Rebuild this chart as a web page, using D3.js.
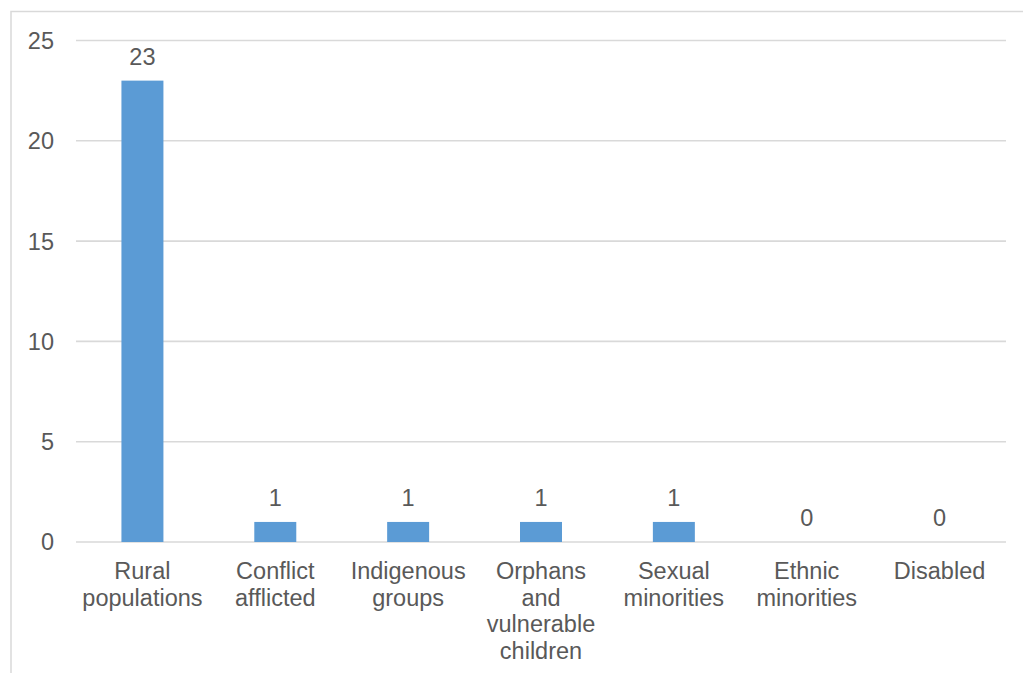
<!DOCTYPE html>
<html>
<head>
<meta charset="utf-8">
<script src="https://cdn.jsdelivr.net/npm/d3@7"></script>
<style>
  html, body { margin: 0; padding: 0; background: #fff; }
  svg { display: block; }
  text { font-family: "Liberation Sans", Arial, sans-serif; fill: #595959; }
</style>
</head>
<body>
<div id="chart"></div>
<script>
// Groups reached and their counts
const categories = [
  ["Rural", "populations"],
  ["Conflict", "afflicted"],
  ["Indigenous", "groups"],
  ["Orphans", "and", "vulnerable", "children"],
  ["Sexual", "minorities"],
  ["Ethnic", "minorities"],
  ["Disabled"]
];
const values = [23, 1, 1, 1, 1, 0, 0];
const yTicks = [0, 5, 10, 15, 20, 25];

const W = 1023, H = 673;
const margin = { left: 76, right: 17, top: 40.5, bottom: 131 };

const svg = d3.select("#chart").append("svg")
  .attr("width", W).attr("height", H);

// Chart frame (extends past the right and bottom edges)
svg.append("rect")
  .attr("x", 11).attr("y", 11.5)
  .attr("width", W + 20).attr("height", H + 20)
  .attr("fill", "none").attr("stroke", "#d9d9d9").attr("stroke-width", 1.5);

const keys = categories.map(c => c.join(" "));
const x = d3.scaleBand()
  .domain(keys)
  .range([margin.left, W - margin.right])
  .paddingInner(0.684).paddingOuter(0.342);

const y = d3.scaleLinear()
  .domain([0, 25])
  .range([H - margin.bottom, margin.top]);

// Horizontal gridlines
svg.append("g")
  .selectAll("line")
  .data(yTicks)
  .join("line")
  .attr("x1", margin.left).attr("x2", W - margin.right)
  .attr("y1", d => y(d)).attr("y2", d => y(d))
  .attr("stroke", "#d9d9d9").attr("stroke-width", 1.6);

// Y axis labels
svg.append("g")
  .selectAll("text")
  .data(yTicks)
  .join("text")
  .attr("x", 54).attr("y", d => y(d))
  .attr("dy", "0.36em")
  .attr("text-anchor", "end")
  .attr("font-size", "23.5px")
  .text(d => d);

// Bars
svg.append("g")
  .selectAll("rect")
  .data(values)
  .join("rect")
  .attr("x", (d, i) => x(keys[i]))
  .attr("width", x.bandwidth())
  .attr("y", d => y(d))
  .attr("height", d => y(0) - y(d))
  .attr("fill", "#5b9bd5");

// Value labels
svg.append("g")
  .selectAll("text")
  .data(values)
  .join("text")
  .attr("x", (d, i) => x(keys[i]) + x.bandwidth() / 2)
  .attr("y", d => y(d) - 16)
  .attr("text-anchor", "middle")
  .attr("font-size", "23.5px")
  .text(d => d);

// Category labels, one tspan per line
const cat = svg.append("g")
  .selectAll("text")
  .data(categories)
  .join("text")
  .attr("text-anchor", "middle")
  .attr("font-size", "23.5px")
  .attr("x", (d, i) => x(keys[i]) + x.bandwidth() / 2)
  .attr("y", y(0) + 37);

cat.selectAll("tspan")
  .data((d, i) => d.map(line => ({ line, cx: x(keys[i]) + x.bandwidth() / 2 })))
  .join("tspan")
  .attr("x", d => d.cx)
  .attr("dy", (d, j) => j === 0 ? 0 : 26.5)
  .text(d => d.line);
</script>
</body>
</html>
